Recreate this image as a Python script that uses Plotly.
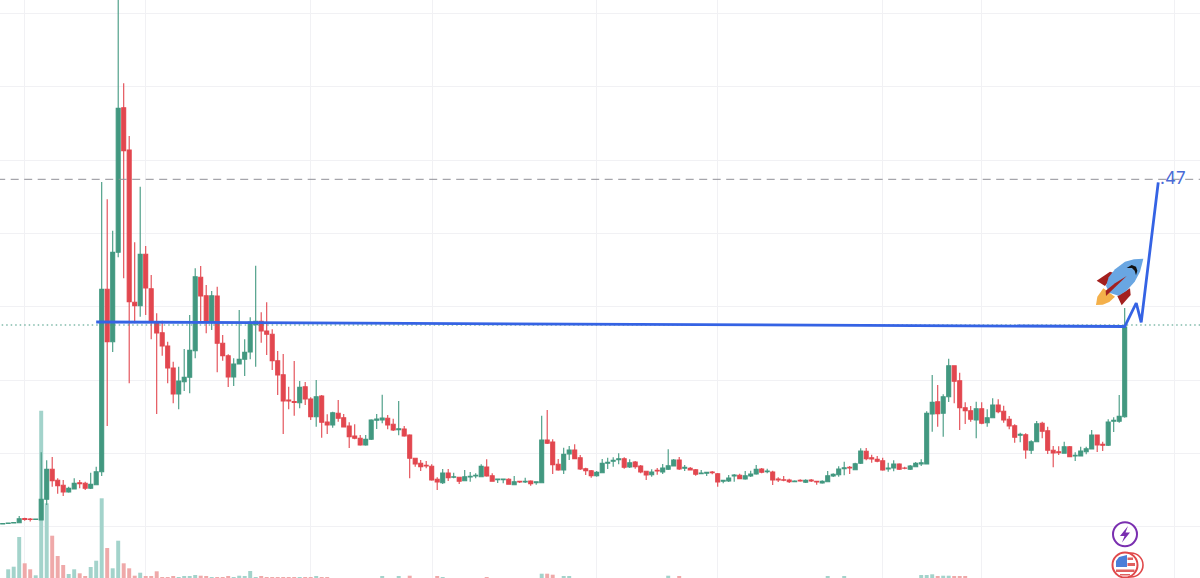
import plotly.graph_objects as go

# -- velas: indice de barra y precio (escala sin etiquetas)
opens = [
    54, 54.5, 55, 55.3, 59.5, 59, 58.5, 58, 78.7, 108.7,
    97.7, 92.7, 86, 89, 95.3, 94.7, 89.7, 93.3, 106.3, 288.7,
    236.3, 325.7, 470.3, 428, 275.7, 272.3, 323.7, 289.3, 256.3, 245.3,
    232, 210, 184, 196.3, 200.7, 227.3, 300.7, 282.3, 255.7, 282,
    234.7, 222.3, 201, 214, 218.7, 226, 253.3, 256.7, 247, 243.7,
    217.3, 203.3, 178, 176.5, 175.3, 191.3, 179, 161.3, 182, 156,
    153, 164.7, 160.3, 152, 142, 139.7, 133, 138.7, 157.7, 158,
    159.7, 153.7, 148.3, 149, 143, 119.7, 114.7, 112.7, 111.7, 98.7,
    95.3, 105, 100.7, 100.7, 97.3, 101, 102, 101.3, 111, 102.3,
    98.3, 98.3, 98.7, 93.3, 96.7, 96, 97, 95.3, 95.3, 138,
    136, 113.7, 108, 124, 128, 120.3, 109.3, 107.3, 102.3, 105.3,
    114.7, 116.7, 118.3, 119.3, 111, 116, 112, 106.7, 103.3, 107.7,
    106, 108.7, 112, 118, 109.7, 109.7, 108.3, 104.3, 104.7, 106,
    104.3, 96.7, 97, 102, 102.7, 99, 102, 104, 109, 106.3,
    106, 99, 98.3, 98, 96.3, 97.7, 95.7, 98, 96.7, 95,
    96.3, 102, 103.3, 109.3, 110.7, 108.3, 114.7, 126.7, 120.3, 118.7,
    117.3, 109, 110, 114, 110, 108.7, 111.3, 114, 114, 164,
    176.3, 164.7, 181.3, 212.3, 197.3, 170.3, 167.3, 158, 169.3, 155.3,
    160.3, 173, 166.7, 158.7, 152.3, 142.7, 143.3, 127.7, 136.3, 154.7,
    147.3, 127.7, 126.3, 124.7, 131.3, 122, 122, 126.3, 129, 143,
    133.7, 132.7, 156.7, 156.7, 161.3,
]
highs = [
    55, 55.5, 56, 62, 60.3, 60, 59.2, 125.7, 117.7, 121,
    99.7, 98, 91.3, 99.7, 98, 96.3, 105.3, 111.3, 396, 378.7,
    347.3, 600, 494.7, 442, 335.7, 391.3, 332, 303, 264.7, 257.3,
    236.3, 216.3, 211.3, 229, 263, 309.7, 312, 293, 287, 291.3,
    243, 223.7, 219.7, 268, 238.7, 260.7, 312.3, 265.7, 275.7, 248.7,
    227, 224, 191.3, 217, 197, 196, 180.7, 198, 183, 163.7,
    166.3, 178, 164, 155.7, 153.7, 143, 143, 158.7, 164, 183.3,
    163, 159.3, 177, 152, 143.7, 120.3, 118, 117, 113.7, 100.7,
    109, 109, 105.3, 100.7, 108, 106, 104.7, 113.7, 118.7, 104.7,
    99, 99, 99.7, 102, 97.3, 100.3, 97.7, 96.3, 162.3, 168,
    138.7, 119, 130.3, 132, 133.7, 123, 110.3, 108, 107, 119,
    120.3, 120.7, 124.7, 120.7, 118.7, 117, 113, 107.3, 108.7, 110,
    114, 128.7, 119, 121, 113, 111, 109, 108, 106, 107,
    105, 98, 103, 104, 104.3, 107, 107.3, 113, 110, 109.3,
    107.3, 100.7, 102, 99.3, 97.7, 98.7, 98.7, 99, 97, 97.7,
    107, 104.7, 111.7, 116.3, 112, 115.3, 129.7, 130, 123.3, 122,
    120.3, 115.3, 117.7, 114.7, 111.3, 113, 116, 118.7, 166.7, 203,
    193, 183.7, 219.3, 212.7, 205.3, 175.7, 172, 176.3, 175.7, 168.7,
    179.7, 178.7, 172.3, 162, 153.7, 145.3, 144.7, 137.7, 157, 156.3,
    151.3, 132, 131.7, 136.3, 132, 125.7, 131.3, 131.3, 148, 143.3,
    136.3, 158.7, 160.7, 183, 270,
]
lows = [
    53.5, 54.5, 54.5, 54.7, 57.3, 56.5, 58, 58, 73, 91.3,
    84.3, 82, 85.3, 88.7, 89.7, 88, 89, 92.7, 102, 152,
    226, 320.7, 299.7, 194.7, 254.7, 261.3, 263, 238.7, 164, 222.3,
    194.7, 174.7, 168.7, 187, 184.7, 219.7, 255, 244.7, 248, 205.7,
    217.3, 191, 192, 214, 202, 218.7, 211.3, 235.3, 223, 208,
    183, 144, 168.7, 162.3, 169.7, 173, 158, 151.3, 140.3, 144,
    150.3, 156.3, 150.7, 130, 138.7, 132.3, 132.3, 138, 149, 154.7,
    148.7, 147, 142.7, 141.3, 99.7, 111.3, 107, 109.7, 97.3, 88,
    94, 97, 99.7, 94, 97, 96.3, 99.7, 101, 101.3, 96.3,
    95, 94.7, 93.3, 92.7, 95, 95, 92.3, 93.3, 95, 134,
    104, 107.3, 104, 118, 118.7, 108, 103, 100.3, 101.3, 105,
    109, 111.3, 113.7, 109.3, 110, 109.3, 104.7, 98, 101.3, 103.3,
    104, 108, 111.7, 108, 107, 107.7, 102.3, 104, 102, 103.7,
    91.3, 94.7, 96, 96.3, 99, 98.3, 101, 103.3, 104.7, 104.7,
    93, 96, 96.7, 95, 95.7, 96.3, 95, 96, 93.3, 94.3,
    96, 101, 101.3, 102.7, 104, 107.7, 114, 117.7, 115.3, 115.7,
    107.3, 106.3, 106.7, 108, 108.7, 108, 110.7, 112, 113.7, 146.3,
    151.3, 141.3, 176, 174.7, 148, 154, 156.3, 139.7, 153.7, 151.3,
    159.7, 164.7, 155.3, 148.7, 135.3, 135.7, 119.3, 124, 135.7, 139.7,
    124, 110.7, 123, 124.3, 120.7, 117, 121.7, 123.7, 128.7, 126,
    127, 132, 146, 155.3, 160.3,
]
closes = [
    54.5, 55, 55.5, 59.3, 58.5, 58.5, 59, 78.7, 108.7, 97.3,
    92.3, 86, 89.7, 94.7, 94.3, 89.7, 93.7, 106.3, 288.7, 236.3,
    325.7, 469.7, 427.3, 276.3, 272.3, 323.7, 290, 255.7, 245, 232,
    210, 184, 197, 200.7, 227.7, 301.3, 282, 255.7, 282.3, 234.7,
    222.3, 201, 214, 218.7, 225.7, 256, 256.7, 247, 243.7, 217.3,
    203, 177, 177, 175.5, 190.7, 179, 161.3, 181.3, 155.7, 153,
    165.3, 159.7, 151, 141.3, 139.7, 133, 138.7, 158, 159, 160,
    153, 148, 149.3, 142, 119.7, 114, 111.3, 112, 98, 96,
    105, 100.3, 101.3, 96.7, 101.3, 101.7, 102.7, 111.7, 102, 96.7,
    99, 99, 93.7, 96.3, 96, 96.7, 94.3, 96.3, 138, 134.7,
    113.3, 108, 123.7, 128, 119.3, 109, 107.3, 102.3, 105.7, 114.7,
    115.7, 117.7, 119.3, 110.7, 115.3, 111.3, 106, 103, 106, 107,
    110, 112.3, 118, 109, 110.7, 108, 103.7, 105, 105.7, 105.3,
    96, 97.7, 100, 103, 99.3, 102.3, 104, 108.7, 105.7, 107,
    98, 98, 97.7, 96.3, 97, 97, 97.7, 97, 96, 96.7,
    102.3, 103.7, 109, 110.3, 110, 114.3, 127, 119.3, 119, 116.7,
    108, 110, 114, 108.7, 109.7, 112, 114.7, 115.3, 164.7, 175.7,
    164.3, 181.3, 212.3, 196.7, 170.3, 167.3, 158.7, 169.3, 154.7, 160.3,
    173, 166.3, 158, 152, 140.7, 143.7, 128, 136.3, 154.3, 146.7,
    127.7, 125, 125.3, 131.3, 121.3, 122.7, 127, 129.3, 143, 133,
    132.7, 156, 157.7, 161.7, 251,
]
volumes = [
    0, 8.7, 11.3, 41, 14.7, 8.7, 2.7, 167.3, 74.7, 42.3,
    22, 13, 4, 8.7, 4.7, 2, 11, 17.3, 79.7, 30,
    9.7, 37.3, 14.7, 9.7, 2.3, 5.3, 1.3, 1.3, 6.7, 0.7,
    0.7, 1.3, 0.7, 1.3, 2, 3, 2.3, 1.3, 1, 1,
    0.7, 1.3, 0.5, 2.3, 1.3, 7, 1, 1.3, 1, 0.5,
    1, 1, 0.5, 1, 0.5, 0.5, 0.5, 1.3, 0.5, 0.5,
    0, 0, 0, 0, 0, 0, 0, 0, 0, 1.7,
    0, 0, 1.3, 0, 2.3, 0, 0, 0, 0, 1.3,
    1, 0, 0, 0, 0, 0, 0, 0, 1, 0,
    0, 0, 0, 0, 0, 0, 0, 0, 4.3, 4.3,
    3.3, 0, 1.3, 1.3, 0, 0, 0, 0, 0, 0,
    0, 0, 0, 0, 0, 0, 0, 0, 0, 0,
    0, 2.3, 0, 1.3, 0, 0, 0, 0, 0, 0,
    0, 0, 0, 0, 0, 0, 0, 0, 0, 0,
    0, 0, 0, 0, 0, 0, 0, 0, 0, 0,
    1.3, 0, 0, 1.3, 0, 0, 0, 0, 0, 0,
    0, 0, 0, 0, 0, 0, 0, 3, 3, 3.7,
    2, 2.3, 2.3, 2, 2, 1.3, 0, 0, 0, 0,
    0, 0, 0, 0, 0, 0, 0, 0, 0, 0,
    0, 0, 0, 0, 0, 0, 0, 0, 0, 0,
    0, 0, 0, 0, 0,
]
bar_index = list(range(len(closes)))

# -- dibujo azul encima de las velas y niveles
path_bars = [17, 204, 206.1, 207, 210.1]
path_prices = [256, 251.5, 275, 255.7, 395.7]
level_bars = [-1, 218]
dashed_level = 398.7
last_level = 253
level_label = ".47"

grid_prices = [564.7, 491.3, 418, 344.7, 271.3, 198, 124.7, 51.3]
grid_bars = [3.9, 25.9, 55.9, 78.1, 108, 129.9, 160, 178, 213]

WIDTH, HEIGHT = 1200, 578
GREEN = "#429880"
RED = "#e2474f"
GREEN_VOL = "#a3d3cb"
RED_VOL = "#efa9a9"
BLUE = "#3563e4"
GRID = "#f1f1f4"


# -- los iconos se dibujan en pixeles de la pagina, pasados a coordenadas de papel
def pt(x, y):
    return f"{x / WIDTH:.5f},{1 - y / HEIGHT:.5f}"


def poly(points, color):
    d = "M " + " L ".join(pt(x, y) for x, y in points) + " Z"
    return dict(type="path", xref="paper", yref="paper", path=d,
                fillcolor=color, line=dict(width=0), layer="above")


def circle(cx, cy, r, fill, stroke, width):
    return dict(type="circle", xref="paper", yref="paper",
                x0=(cx - r) / WIDTH, x1=(cx + r) / WIDTH,
                y0=1 - (cy + r) / HEIGHT, y1=1 - (cy - r) / HEIGHT,
                fillcolor=fill, line=dict(color=stroke, width=width), layer="above")


def rect(x0, y0, x1, y1, color):
    return poly([(x0, y0), (x1, y0), (x1, y1), (x0, y1)], color)


def zoomed(points):
    # puntos medidos sobre el recorte del cohete
    return [(1060 + x / 3, 160 + y / 3) for x, y in points]


rocket = [
    poly(zoomed([(108, 435), (112, 410), (130, 385), (165, 410), (148, 426), (128, 434)]), "#f4b04a"),
    poly(zoomed([(110, 362), (150, 335), (165, 340), (135, 378)]), "#a3201f"),
    poly(zoomed([(172, 408), (210, 385), (212, 405), (185, 436)]), "#a3201f"),
    poly(zoomed([(250, 296), (222, 298), (195, 305), (165, 328), (146, 352), (138, 378), (148, 398),
                 (176, 407), (200, 392), (224, 365), (240, 335)]), "#69a6e2"),
    poly(zoomed([(200, 348), (138, 408), (137, 392), (165, 370)]), "#a3201f"),
    poly(zoomed([(200, 324), (215, 315), (228, 320), (232, 332), (228, 346), (224, 332), (216, 324)]), "#111111"),
]

badges = [
    circle(1125, 534.3, 12, "#ffffff", "#7a2fb0", 2),
    poly([(1128, 526), (1120, 536), (1124.5, 536), (1122, 542.5), (1130, 532.5), (1125.5, 532.5)], "#7a2fb0"),
    circle(1131, 565, 12, "#ffffff", "#e0484a", 1.6),
    circle(1125, 565, 12.5, "#ffffff", "#e0484a", 2),
    poly([(1116, 567), (1116, 561), (1119, 557), (1127, 555), (1127, 567)], "#4a7fd8"),
    rect(1127.5, 557.5, 1133, 560, "#e0605f"),
    rect(1127.5, 563, 1135, 566, "#e0605f"),
    rect(1116, 569.5, 1134.5, 572, "#e0605f"),
    rect(1120, 574, 1130, 575.5, "#e0605f"),
]

vol_colors = [GREEN_VOL if c >= o else RED_VOL for o, c in zip(opens, closes)]

fig = go.Figure()
fig.add_trace(go.Bar(x=bar_index, y=volumes, width=0.72, yaxis="y",
                     marker=dict(color=vol_colors, line=dict(width=0)),
                     hoverinfo="skip", showlegend=False))
fig.add_trace(go.Candlestick(x=bar_index, open=opens, high=highs, low=lows, close=closes,
                             yaxis="y2", showlegend=False, hoverinfo="skip", whiskerwidth=0,
                             increasing=dict(line=dict(color=GREEN, width=1.1), fillcolor=GREEN),
                             decreasing=dict(line=dict(color=RED, width=1.1), fillcolor=RED)))
fig.add_trace(go.Scatter(x=level_bars, y=[dashed_level, dashed_level], yaxis="y2", mode="lines",
                         line=dict(color="#8f8f96", width=1, dash="8px,5.5px"),
                         hoverinfo="skip", showlegend=False))
fig.add_trace(go.Scatter(x=level_bars, y=[last_level, last_level], yaxis="y2", mode="lines",
                         line=dict(color=GREEN, width=1.2, dash="1.5px,3px"),
                         hoverinfo="skip", showlegend=False))
fig.add_trace(go.Scatter(x=path_bars, y=path_prices, yaxis="y2", mode="lines",
                         line=dict(color=BLUE, width=2.8),
                         hoverinfo="skip", showlegend=False))

fig.add_annotation(x=210.3, y=400, xref="x", yref="y2", text=level_label, showarrow=False,
                   xanchor="left", yanchor="middle", xshift=-1,
                   font=dict(family="Inter, Liberation Sans, sans-serif", size=17, color="#4a6bd6"))

fig.update_layout(
    width=WIDTH, height=HEIGHT,
    margin=dict(l=0, r=0, t=0, b=0),
    paper_bgcolor="white", plot_bgcolor="white",
    boxgap=0.1, boxgroupgap=0.2, bargap=0.28,
    shapes=rocket + badges,
    xaxis=dict(range=[-0.49, 217.69], rangeslider=dict(visible=False), tickmode="array",
               tickvals=grid_bars, showticklabels=False, ticks="", showgrid=True,
               gridcolor=GRID, gridwidth=1, zeroline=False, showline=False),
    yaxis=dict(range=[0, HEIGHT], tickmode="array", tickvals=grid_prices, showticklabels=False,
               ticks="", showgrid=True, gridcolor=GRID, gridwidth=1, zeroline=False, showline=False),
    yaxis2=dict(range=[0, HEIGHT], overlaying="y", showticklabels=False, ticks="", showgrid=False,
                zeroline=False, showline=False),
)

# -- la pagina trae margen por defecto en body; se quita para que el grafico llene la ventana
fig.write_html("out.html", config=dict(displayModeBar=False),
               post_script="document.body.style.margin='0';document.body.style.overflow='hidden';")
